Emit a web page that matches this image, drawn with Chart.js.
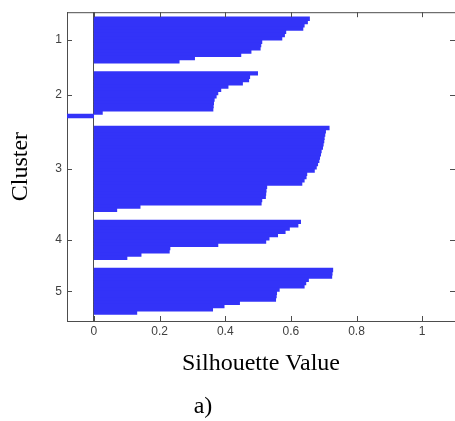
<!DOCTYPE html>
<html>
<head>
<meta charset="utf-8">
<script src="https://cdn.jsdelivr.net/npm/chart.js@4.4.1/dist/chart.umd.min.js"></script>
<style>
  html, body { margin: 0; padding: 0; background: #fff; }
  #contenedor { width: 455px; height: 421px; }
</style>
</head>
<body>
<div id="contenedor"><canvas id="grafico"></canvas></div>
<script>
// valores de silueta de cada cluster, ordenados de mayor a menor
const cluster1 = [0.656, 0.650, 0.640, 0.636, 0.584, 0.580, 0.572, 0.511, 0.508, 0.506, 0.478, 0.447, 0.306, 0.259];
const cluster2 = [0.498, 0.474, 0.471, 0.452, 0.408, 0.386, 0.377, 0.372, 0.366, 0.364, 0.363, 0.362, 0.025, -0.082];
const cluster3 = [0.716, 0.705, 0.703, 0.701, 0.700, 0.698, 0.696, 0.692, 0.690, 0.687, 0.685, 0.681, 0.677,
                  0.671, 0.648, 0.646, 0.640, 0.633, 0.526, 0.524, 0.523, 0.522, 0.511, 0.509, 0.140, 0.069];
const cluster4 = [0.629, 0.621, 0.595, 0.582, 0.559, 0.533, 0.523, 0.377, 0.231, 0.229, 0.143, 0.100];
const cluster5 = [0.727, 0.725, 0.724, 0.653, 0.645, 0.640, 0.564, 0.556, 0.555, 0.553, 0.443, 0.396, 0.361, 0.130];

const nombresCluster = ['1', '2', '3', '4', '5'];
const xTicks = [0, 0.2, 0.4, 0.6, 0.8, 1];
const xTickLabels = ['0', '0.2', '0.4', '0.6', '0.8', '1'];

const clusters = [cluster1, cluster2, cluster3, cluster4, cluster5];
const ESPACIO = 2.7;   // filas vacias entre clusters
const AZUL = '#3333f8';
const GRIS = '#4d4d4d';

// una barra por observacion, los clusters separados por unas filas vacias
const filas = [];
const centros = [];
let pos = 1;
clusters.forEach(c => {
  const inicio = pos;
  c.forEach(v => { filas.push({ x: v, y: pos }); pos++; });
  centros.push((inicio + pos - 1) / 2);
  pos += ESPACIO;
});
const xMin = Math.min(...clusters.flat());

// marco superior, ticks hacia adentro y la etiqueta del panel
const marco = {
  id: 'marco',
  afterDraw(chart) {
    const { ctx, chartArea: a, scales: { x, y } } = chart;
    ctx.save();
    ctx.strokeStyle = GRIS;
    ctx.lineWidth = 1;
    ctx.beginPath();
    ctx.moveTo(a.left, a.top + 0.5);
    ctx.lineTo(a.right, a.top + 0.5);
    x.ticks.forEach(t => {
      const px = Math.round(x.getPixelForValue(t.value)) + 0.5;
      ctx.moveTo(px, a.bottom);
      ctx.lineTo(px, a.bottom - 5);
      ctx.moveTo(px, a.top);
      ctx.lineTo(px, a.top + 5);
    });
    y.ticks.forEach(t => {
      const py = Math.round(y.getPixelForValue(t.value)) + 0.5;
      ctx.moveTo(a.left, py);
      ctx.lineTo(a.left + 5, py);
      ctx.moveTo(a.right, py);
      ctx.lineTo(a.right - 5, py);
    });
    ctx.stroke();

    ctx.font = '24px "Liberation Serif"';
    ctx.fillStyle = '#000';
    ctx.textAlign = 'center';
    ctx.textBaseline = 'alphabetic';
    ctx.fillText('a)', 203, 413);
    ctx.restore();
  }
};

new Chart(document.getElementById('grafico'), {
  type: 'bar',
  data: {
    datasets: [{
      data: filas,
      backgroundColor: AZUL,
      borderWidth: 0,
      inflateAmount: 0.6,
      barPercentage: 1,
      categoryPercentage: 1
    }]
  },
  options: {
    indexAxis: 'y',
    responsive: true,
    maintainAspectRatio: false,
    animation: false,
    layout: { padding: { top: 10, left: 0, right: 0, bottom: 0 } },
    plugins: {
      legend: { display: false },
      tooltip: { enabled: false }
    },
    scales: {
      x: {
        type: 'linear',
        position: 'bottom',
        min: xMin,
        max: 1.1,
        afterBuildTicks: s => { s.ticks = xTicks.map(v => ({ value: v })); },
        afterFit: s => { s.height = 100; },
        ticks: {
          padding: 3,
          color: '#404040',
          font: { family: 'Liberation Sans', size: 12 },
          callback: (v, i) => xTickLabels[i]
        },
        grid: {
          drawTicks: false,
          color: c => (c.tick && c.tick.value === 0 ? GRIS : 'transparent')
        },
        border: { display: true, color: GRIS, width: 1 },
        title: {
          display: true,
          text: 'Silhouette Value',
          color: '#000',
          font: { family: 'Liberation Serif', size: 24 },
          padding: { top: 0, bottom: 43 }
        }
      },
      y: {
        type: 'linear',
        reverse: true,
        offset: false,
        min: -1,
        max: 93.4,
        afterBuildTicks: s => { s.ticks = centros.map(v => ({ value: v })); },
        afterFit: s => { s.width = 67; },
        ticks: {
          padding: 5,
          color: '#404040',
          font: { family: 'Liberation Sans', size: 12 },
          callback: (v, i) => nombresCluster[i]
        },
        grid: { display: false, drawTicks: false, offset: false },
        border: { display: true, color: GRIS, width: 1 },
        title: {
          display: true,
          text: 'Cluster',
          color: '#000',
          font: { family: 'Liberation Serif', size: 24 },
          padding: { top: 6, bottom: 0 }
        }
      }
    }
  },
  plugins: [marco]
});
</script>
</body>
</html>
